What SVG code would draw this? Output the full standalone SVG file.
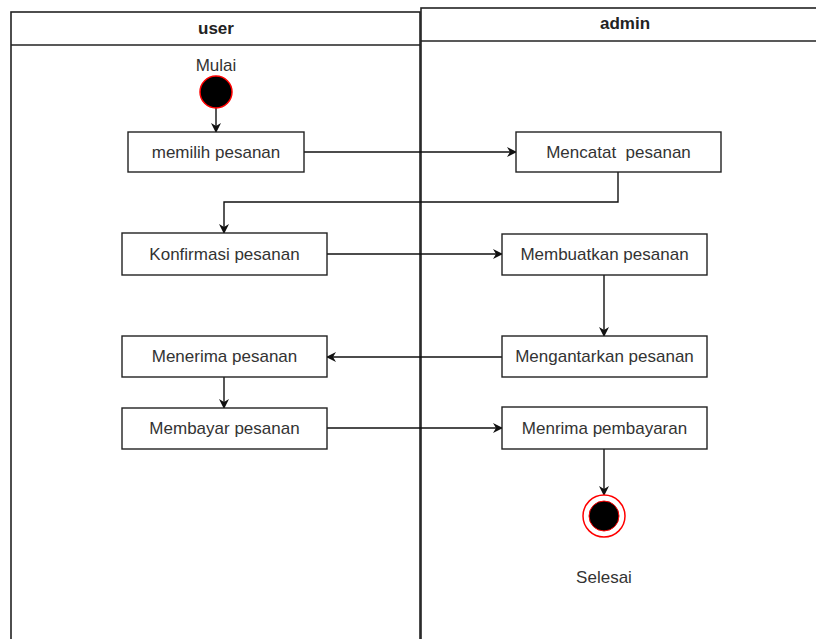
<svg xmlns="http://www.w3.org/2000/svg" width="816" height="639" viewBox="0 0 816 639">
<defs>
<style>
.lane{fill:#fff;stroke:#222;stroke-width:1.6}
.box{fill:#fff;stroke:#222;stroke-width:1.4}
.t{font-family:"Liberation Sans",Arial,sans-serif;font-size:17px;fill:#333;text-anchor:middle;dominant-baseline:central}
.h{font-family:"Liberation Sans",Arial,sans-serif;font-size:17px;font-weight:bold;fill:#222;text-anchor:middle;dominant-baseline:central}
.c{fill:none;stroke:#111;stroke-width:1.4;marker-end:url(#arr)}
</style>
<marker id="arr" viewBox="0 0 10 10" refX="9" refY="5" markerWidth="10" markerHeight="10" markerUnits="userSpaceOnUse" orient="auto">
<path d="M0,0 L10,5 L0,10 L3,5 z" fill="#111"/>
</marker>
</defs>
<g id="lane-user">
<rect class="lane" x="11" y="12" width="409" height="700"/>
<line x1="11" y1="45" x2="420" y2="45" stroke="#222" stroke-width="1.6"/>
<text class="h" x="216" y="28">user</text>
</g>
<g id="lane-admin">
<rect class="lane" x="421" y="8" width="420" height="700"/>
<line x1="421" y1="41" x2="816" y2="41" stroke="#222" stroke-width="1.6"/>
<text class="h" x="625" y="23">admin</text>
</g>
<g id="connectors">
<path class="c" d="M216,108 V132"/>
<path class="c" d="M304,152 H516"/>
<path class="c" d="M618,172 V202 H224 V233"/>
<path class="c" d="M327,254 H502"/>
<path class="c" d="M604,275 V336"/>
<path class="c" d="M502,357 H327"/>
<path class="c" d="M224,377 V408"/>
<path class="c" d="M327,428 H502"/>
<path class="c" d="M604,449 V495"/>
</g>
<g id="start">
<text class="t" x="216" y="65">Mulai</text>
<circle cx="216" cy="92" r="16" fill="#000" stroke="#ff0000" stroke-width="1.5"/>
</g>
<g id="memilih"><rect class="box" x="128" y="132" width="176" height="40"/><text class="t" x="216" y="152">memilih pesanan</text></g>
<g id="mencatat"><rect class="box" x="516" y="132" width="205" height="40"/><text class="t" x="618.5" y="152" xml:space="preserve">Mencatat  pesanan</text></g>
<g id="konfirmasi"><rect class="box" x="122" y="233" width="205" height="42"/><text class="t" x="224.5" y="254">Konfirmasi pesanan</text></g>
<g id="membuatkan"><rect class="box" x="502" y="234" width="205" height="41"/><text class="t" x="604.5" y="254.5">Membuatkan pesanan</text></g>
<g id="mengantarkan"><rect class="box" x="502" y="336" width="205" height="41"/><text class="t" x="604.5" y="356.5">Mengantarkan pesanan</text></g>
<g id="menerima"><rect class="box" x="122" y="336" width="205" height="41"/><text class="t" x="224.5" y="356.5">Menerima pesanan</text></g>
<g id="membayar"><rect class="box" x="122" y="408" width="205" height="41"/><text class="t" x="224.5" y="428.5">Membayar pesanan</text></g>
<g id="menrima"><rect class="box" x="502" y="407" width="205" height="42"/><text class="t" x="604.5" y="428">Menrima pembayaran</text></g>
<g id="end">
<circle cx="604" cy="516" r="21" fill="#fff" stroke="#ff0000" stroke-width="1.5"/>
<circle cx="604" cy="516" r="15" fill="#000" stroke="#ff0000" stroke-width="1"/>
<text class="t" x="604" y="577">Selesai</text>
</g>
</svg>
